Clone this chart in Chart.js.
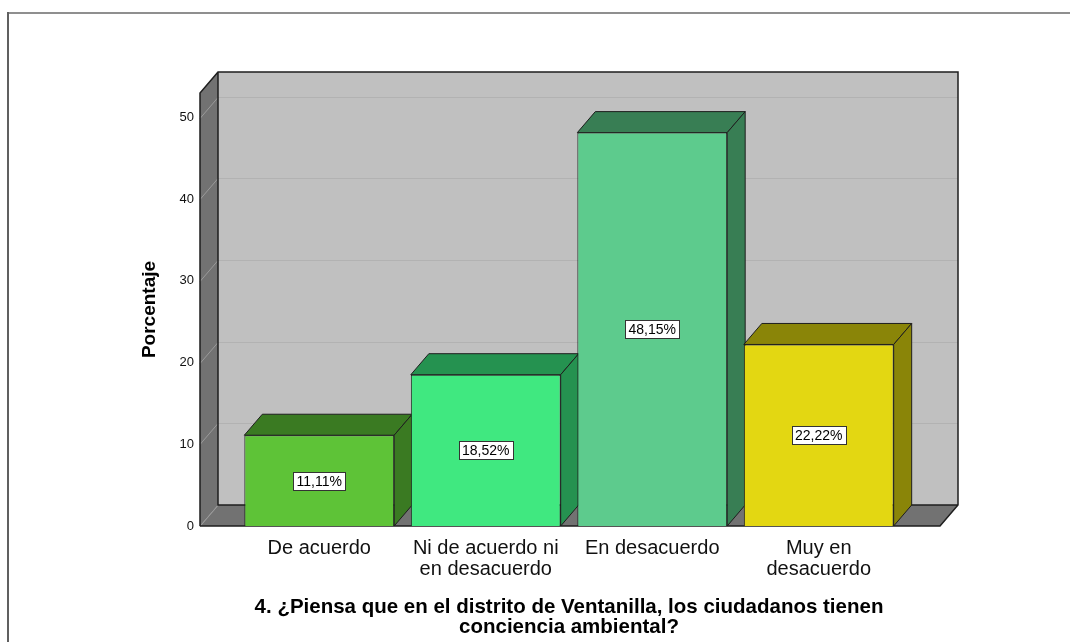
<!DOCTYPE html>
<html>
<head>
<meta charset="utf-8">
<script src="https://cdn.jsdelivr.net/npm/chart.js@4"></script>
<style>
    html, body { margin: 0; padding: 0; background: #fff; }
    #wrap { width: 1070px; height: 642px; position: relative; }
</style>
</head>
<body>
<div id="wrap"><canvas id="chart" width="1070" height="642"></canvas></div>
<script>
const categories = [['De acuerdo'], ['Ni de acuerdo ni', 'en desacuerdo'], ['En desacuerdo'], ['Muy en', 'desacuerdo']];
const percentages = [11.11, 18.52, 48.15, 22.22];
const yTicks = [0, 10, 20, 30, 40, 50];
const yMax = 53;
const frontColors = ['#5ec337', '#40e880', '#5dcb8d', '#e3d712'];
const sideColors = ['#3a7a22', '#259250', '#387e54', '#8a8508'];
const xTitle = ['4. ¿Piensa que en el distrito de Ventanilla, los ciudadanos tienen', 'conciencia ambiental?'];

// depth of the fake 3D box
const DX = 18;
const DY = -21;

function poly(ctx, pts, fill, stroke) {
    ctx.beginPath();
    ctx.moveTo(pts[0][0], pts[0][1]);
    for (let i = 1; i < pts.length; i++) ctx.lineTo(pts[i][0], pts[i][1]);
    ctx.closePath();
    if (fill) { ctx.fillStyle = fill; ctx.fill(); }
    if (stroke) { ctx.strokeStyle = stroke; ctx.lineWidth = 1; ctx.stroke(); }
}

const box3d = {
    id: 'box3d',
    beforeDatasetsDraw(chart) {
        const ctx = chart.ctx;
        const area = chart.chartArea;
        const y = chart.scales.y;
        const L = area.left - 36;
        const R = area.right + 38;
        const B = y.getPixelForValue(0);
        const T = y.getPixelForValue(yMax);

        ctx.save();
        // outer frame
        ctx.fillStyle = '#8f8f8f';
        ctx.fillRect(7, 12, 1070, 2);
        ctx.fillStyle = '#606060';
        ctx.fillRect(7, 12, 2, 642);

        // back wall
        poly(ctx, [[L + DX, T + DY], [R + DX, T + DY], [R + DX, B + DY], [L + DX, B + DY]], '#c0c0c0', null);
        // grid lines
        yTicks.forEach(v => {
            if (v === 0) return;
            const py = Math.round(y.getPixelForValue(v)) + 0.5;
            ctx.strokeStyle = '#b2b2b2';
            ctx.lineWidth = 1;
            ctx.beginPath();
            ctx.moveTo(L + DX, py + DY);
            ctx.lineTo(R + DX, py + DY);
            ctx.stroke();
        });
        // left wall and floor
        poly(ctx, [[L, T], [L + DX, T + DY], [L + DX, B + DY], [L, B]], '#727272', null);
        poly(ctx, [[L, B], [L + DX, B + DY], [R + DX, B + DY], [R, B]], '#727272', null);
        yTicks.forEach(v => {
            const py = Math.round(y.getPixelForValue(v)) + 0.5;
            ctx.strokeStyle = '#9a9a9a';
            ctx.beginPath();
            ctx.moveTo(L, py);
            ctx.lineTo(L + DX, py + DY);
            ctx.stroke();
        });
        // edges
        ctx.strokeStyle = '#1e1e1e';
        ctx.lineWidth = 1.5;
        ctx.beginPath();
        ctx.moveTo(L, B); ctx.lineTo(L, T); ctx.lineTo(L + DX, T + DY);
        ctx.lineTo(R + DX, T + DY); ctx.lineTo(R + DX, B + DY); ctx.lineTo(R, B); ctx.lineTo(L, B);
        ctx.moveTo(L + DX, T + DY); ctx.lineTo(L + DX, B + DY); ctx.lineTo(R + DX, B + DY);
        ctx.stroke();

        // top and side faces of the bars
        const meta = chart.getDatasetMeta(0);
        meta.data.forEach((bar, i) => {
            const p = bar.getProps(['x', 'y', 'base', 'width'], true);
            const x0 = p.x - p.width / 2;
            const x1 = p.x + p.width / 2;
            poly(ctx, [[x0, p.y], [x0 + DX, p.y + DY], [x1 + DX, p.y + DY], [x1, p.y]], sideColors[i], '#1e1e1e');
            poly(ctx, [[x1, p.y], [x1 + DX, p.y + DY], [x1 + DX, p.base + DY], [x1, p.base]], sideColors[i], '#1e1e1e');
        });
        ctx.restore();
    },
    afterDatasetsDraw(chart) {
        const ctx = chart.ctx;
        const meta = chart.getDatasetMeta(0);
        ctx.save();
        ctx.font = '14px Arial, "Liberation Sans", sans-serif';
        ctx.textAlign = 'center';
        ctx.textBaseline = 'middle';
        meta.data.forEach((bar, i) => {
            const p = bar.getProps(['x', 'y', 'base'], true);
            const text = percentages[i].toFixed(2).replace('.', ',') + '%';
            const cy = Math.round((p.y + p.base) / 2);
            const w = Math.ceil(ctx.measureText(text).width) + 6;
            const h = 18;
            const bx = Math.round(p.x - w / 2) + 0.5;
            const by = cy - h / 2 + 0.5;
            ctx.fillStyle = '#ffffff';
            ctx.fillRect(bx, by, w, h);
            ctx.strokeStyle = '#333333';
            ctx.lineWidth = 1;
            ctx.strokeRect(bx, by, w, h);
            ctx.fillStyle = '#000000';
            ctx.fillText(text, p.x, cy + 1);
        });
        ctx.restore();
    }
};

new Chart(document.getElementById('chart'), {
    type: 'bar',
    data: {
        labels: categories,
        datasets: [{
            label: 'Porcentaje',
            data: percentages,
            backgroundColor: frontColors,
            borderColor: '#1e1e1e',
            borderWidth: 1,
            categoryPercentage: 1,
            barPercentage: 0.9
        }]
    },
    options: {
        responsive: false,
        animation: false,
        devicePixelRatio: 1,
        layout: {
            padding: { left: 134, right: 168, top: 93, bottom: 0 }
        },
        plugins: {
            legend: { display: false },
            tooltip: { enabled: false }
        },
        scales: {
            x: {
                grid: { display: false, drawTicks: false },
                border: { display: false },
                ticks: {
                    color: '#111',
                    font: { family: 'Arial, "Liberation Sans", sans-serif', size: 20, lineHeight: 1.05 },
                    padding: 12,
                    maxRotation: 0,
                    autoSkip: false
                },
                title: {
                    display: true,
                    text: xTitle,
                    color: '#000',
                    font: { family: 'Arial, "Liberation Sans", sans-serif', size: 20.5, weight: 'bold', lineHeight: 0.95 },
                    padding: { top: 4, bottom: 5 }
                },
                afterFit: scale => { scale.height = 116; }
            },
            y: {
                min: 0,
                max: yMax,
                afterBuildTicks: scale => { scale.ticks = yTicks.map(v => ({ value: v })); },
                grid: { display: false, drawTicks: false },
                border: { display: false },
                ticks: {
                    color: '#111',
                    font: { family: 'Arial, "Liberation Sans", sans-serif', size: 13 },
                    padding: 42
                },
                title: {
                    display: true,
                    text: 'Porcentaje',
                    color: '#000',
                    font: { family: 'Arial, "Liberation Sans", sans-serif', size: 19, weight: 'bold' },
                    padding: { top: 4, bottom: 4 }
                },
                afterFit: scale => { scale.width = 102; }
            }
        }
    },
    plugins: [box3d]
});
</script>
</body>
</html>
